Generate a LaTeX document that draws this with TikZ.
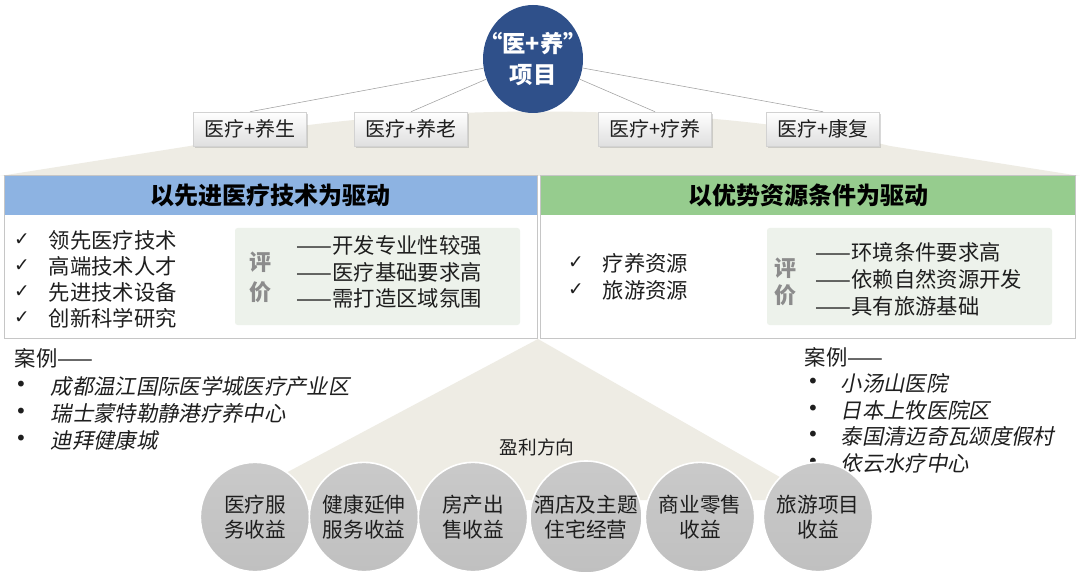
\documentclass[tikz,border=0pt]{standalone}
\usepackage{fontspec}
\setmainfont{Noto Sans CJK SC}
\newfontfamily\slantcjk{Noto Sans CJK SC}[FakeSlant=0.2]
\newfontfamily\symbolfont{DejaVu Sans}
\usetikzlibrary{shadows, shapes.geometric}
\definecolor{projblue}{RGB}{47,80,138}
\definecolor{sandbg}{RGB}{238,236,228}
\definecolor{techblue}{RGB}{141,179,226}
\definecolor{resgreen}{RGB}{150,204,142}
\definecolor{evalbg}{RGB}{237,242,235}
\definecolor{evalgray}{RGB}{140,140,140}
\definecolor{coingray}{RGB}{192,192,192}
\definecolor{inkgray}{RGB}{30,30,30}

\begin{document}
\begin{tikzpicture}[x=0.75pt, y=-0.75pt, text=inkgray,
  combo/.style={draw=gray!35, top color=white, bottom color=gray!25,
    minimum width=85pt, minimum height=25.5pt, font=\fontsize{15}{18}\selectfont,
    drop shadow={opacity=0.3, shadow xshift=1.2pt, shadow yshift=-1.2pt}},
  headline/.style={font=\bfseries\fontsize{18}{22}\selectfont, text=black},
  listitem/.style={anchor=west, font=\fontsize{16}{19}\selectfont},
  tickmark/.style={font=\symbolfont\fontsize{14}{16}\selectfont},
  evalchar/.style={font=\bfseries\fontsize{16.5}{19}\selectfont, text=evalgray},
  caseitem/.style={anchor=west, font=\slantcjk\fontsize{16}{19}\selectfont},
  bulletdot/.style={font=\symbolfont\fontsize{15}{16}\selectfont},
  coin/.style={circle, top color=coingray!85, bottom color=coingray, draw=white,
    line width=1.2pt, minimum size=82pt, inner sep=0pt, align=center,
    font=\fontsize{15.5}{19}\selectfont}]
  \fill[white] (0,0) rectangle (1080,573);
  \useasboundingbox (0,0) rectangle (1080,573);

  % Hintergrund oben
  \fill[sandbg] (0,176) -- (190,146) .. controls (380,100) and (700,100) .. (890,146)
    -- (1080,176) -- cycle;

  % Projekt und vier Kombinationen
  \node[ellipse, fill=projblue, minimum width=75pt, minimum height=81pt, inner sep=0pt]
    (proj) at (533,59) {};
  \node[align=center, text=white, font=\bfseries\fontsize{17.5}{23}\selectfont]
    at (proj) {“医+养”\\项目};
  \node[combo] (yangsheng) at (250,129) {医疗+养生};
  \node[combo] (yanglao)   at (411,129) {医疗+养老};
  \node[combo] (liaoyang)  at (655,129) {医疗+疗养};
  \node[combo] (kangfu)    at (823,129) {医疗+康复};
  \foreach \b in {yangsheng, yanglao, liaoyang, kangfu}
    \draw[gray!75, thin] (proj) -- (\b.north);

  % zwei Antriebe
  \fill[techblue] (4,175) rectangle (537,215);
  \fill[resgreen] (540,175) rectangle (1075,215);
  \draw[gray!45] (4,175) rectangle (537,338);
  \draw[gray!45] (540,175) rectangle (1075,338);
  \node[headline] (tech) at (270,195) {以先进医疗技术为驱动};
  \node[headline] (res)  at (808,195) {以优势资源条件为驱动};

  % links: Technik
  \foreach \t [count=\i] in {领先医疗技术, 高端技术人才, 先进技术设备, 创新科学研究} {
    \node[tickmark] at (22, 214+26*\i) {✓};
    \node[listitem] at (44, 214+26*\i) {\t};
  }
  \fill[evalbg, rounded corners=2pt] (235,228) rectangle (520,325);
  \node[evalchar] at (260,262) {评};
  \node[evalchar] at (260,292) {价};
  \foreach \t [count=\i] in {开发专业性较强, 医疗基础要求高, 需打造区域氛围}
    \node[listitem] at (292, 219+26.5*\i) {——\t};

  % rechts: Ressourcen
  \foreach \t [count=\i] in {疗养资源, 旅游资源} {
    \node[tickmark] at (576, 236+27*\i) {✓};
    \node[listitem] at (598, 236+27*\i) {\t};
  }
  \fill[evalbg, rounded corners=2pt] (767,228) rectangle (1052,325);
  \node[evalchar] at (785,268) {评};
  \node[evalchar] at (785,295) {价};
  \foreach \t [count=\i] in {环境条件要求高, 依赖自然资源开发, 具有旅游基础}
    \node[listitem] at (811, 225+27*\i) {——\t};

  % Fallbeispiele
  \node[listitem] at (10,358) {案例——};
  \foreach \t [count=\i] in {成都温江国际医学城医疗产业区, 瑞士蒙特勒静港疗养中心, 迪拜健康城} {
    \node[bulletdot] at (21, 359+27*\i) {•};
    \node[caseitem] at (46, 359+27*\i) {\t};
  }
  \node[listitem] at (800,357) {案例——};
  \foreach \t [count=\i] in {小汤山医院, 日本上牧医院区, 泰国清迈奇瓦颂度假村, 依云水疗中心} {
    \node[bulletdot] at (813, 357+26.5*\i) {•};
    \node[caseitem] at (836, 357+26.5*\i) {\t};
  }

  % Gewinnrichtung
  \fill[sandbg] (538,339) -- (235,500) -- (820,500) -- cycle;
  \node[font=\fontsize{14}{17}\selectfont] (profit) at (537,447) {盈利方向};
  \foreach \t/\x [count=\i] in {医疗服\\务收益/255, 健康延伸\\服务收益/364,
      房产出\\售收益/473, 酒店及主题\\住宅经营/586, 商业零售\\收益/700,
      旅游项目\\收益/818}
    \node[coin] (coin\i) at (\x, 517) {\t};
\end{tikzpicture}
\end{document}
